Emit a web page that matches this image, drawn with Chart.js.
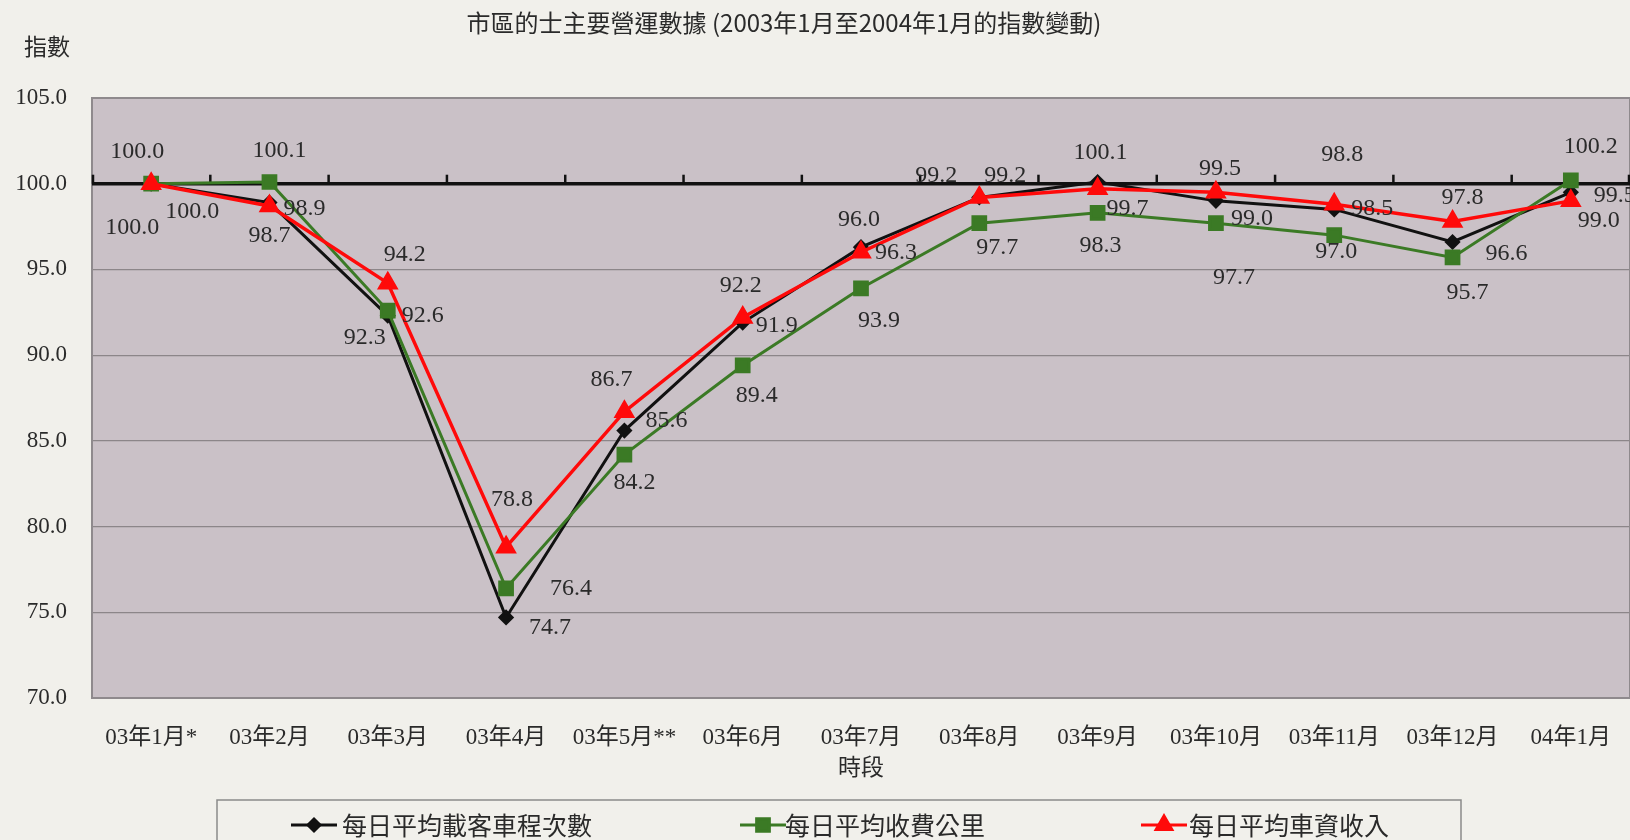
<!DOCTYPE html>
<html>
<head>
<meta charset="utf-8">
<script src="https://cdn.jsdelivr.net/npm/chart.js@4.4.1/dist/chart.umd.min.js"></script>
<style>
  html, body { margin: 0; padding: 0; background: #f1f0eb; overflow: hidden; }
  #wrap { width: 1630px; height: 840px; position: relative; }
</style>
</head>
<body>
<div id="wrap"><canvas id="taxiChart"></canvas></div>
<script>
// 市區的士主要營運數據 - 指數 (2003年1月 = 100)
const months = ["03年1月*", "03年2月", "03年3月", "03年4月", "03年5月**", "03年6月", "03年7月",
  "03年8月", "03年9月", "03年10月", "03年11月", "03年12月", "04年1月"];
const trips = [100.0, 98.9, 92.3, 74.7, 85.6, 91.9, 96.3, 99.2, 100.1, 99.0, 98.5, 96.6, 99.5];
const paidKm = [100.0, 100.1, 92.6, 76.4, 84.2, 89.4, 93.9, 97.7, 98.3, 97.7, 97.0, 95.7, 100.2];
const fareIncome = [100.0, 98.7, 94.2, 78.8, 86.7, 92.2, 96.0, 99.2, 99.7, 99.5, 98.8, 97.8, 99.0];
const seriesNames = ["每日平均載客車程次數", "每日平均收費公里", "每日平均車資收入"];
const yMin = 70, yMax = 105, yStep = 5, baseLine = 100;

// where each value label sits relative to its point (px)
const labelOffsets = [
  [[41, 28], [35, 6], [-23, 22], [44, 10], [42, -10], [34, 3], [35, 6], [-43, -22], [3, -29], [36, 18], [38, -1], [54, 12], [44, 3]],
  [[-14, -32], [10, -31], [35, 5], [65, 0], [10, 28], [14, 30], [18, 32], [18, 25], [3, 33], [18, 55], [2, 17], [15, 35], [20, -34]],
  [[-19, 44], [0, 30], [17, -28], [6, -47], [-13, -32], [-2, -32], [-2, -33], [26, -22], [30, 20], [4, -24], [8, -50], [10, -24], [28, 20]]
];

const serif = '"Liberation Serif", "Noto Sans CJK TC", serif';
const cjk = '"Noto Sans CJK TC", "Liberation Serif", sans-serif';
const textColor = "#2a2a2a";

const decorations = {
  id: "decorations",
  beforeDraw(chart) {
    const { ctx, chartArea: a } = chart;
    ctx.save();
    ctx.fillStyle = "#cac1c7";
    ctx.fillRect(a.left, a.top, a.right - a.left, a.bottom - a.top);
    ctx.restore();
  },
  beforeDatasetsDraw(chart) {
    const { ctx, chartArea: a, scales } = chart;
    const y = scales.y.getPixelForValue(baseLine);
    ctx.save();
    ctx.strokeStyle = "#8f8a8d";
    ctx.lineWidth = 2;
    ctx.strokeRect(a.left, a.top, a.right - a.left, a.bottom - a.top);
    // thick base line at 100 with small tick marks between months
    ctx.strokeStyle = "#111";
    ctx.lineWidth = 3.5;
    ctx.beginPath();
    ctx.moveTo(a.left, y);
    ctx.lineTo(a.right, y);
    ctx.stroke();
    ctx.lineWidth = 2.5;
    const n = months.length;
    for (let i = 0; i <= n; i++) {
      let x;
      if (i === 0) x = a.left + 1;
      else if (i === n) x = a.right - 1;
      else x = (scales.x.getPixelForValue(i - 1) + scales.x.getPixelForValue(i)) / 2;
      ctx.beginPath();
      ctx.moveTo(x, y);
      ctx.lineTo(x, y - 9);
      ctx.stroke();
    }
    ctx.restore();
  },
  afterDraw(chart) {
    const { ctx, chartArea: a } = chart;
    ctx.save();
    // value labels
    ctx.font = "24px " + serif;
    ctx.fillStyle = textColor;
    ctx.textAlign = "center";
    ctx.textBaseline = "middle";
    chart.data.datasets.forEach((ds, i) => {
      const meta = chart.getDatasetMeta(i);
      meta.data.forEach((pt, j) => {
        const off = labelOffsets[i][j];
        ctx.fillText(ds.data[j].toFixed(1), pt.x + off[0], pt.y + off[1]);
      });
    });
    // titles
    ctx.font = "24px " + cjk;
    ctx.fillText("市區的士主要營運數據 (2003年1月至2004年1月的指數變動)", 784, 23);
    ctx.font = "23px " + cjk;
    ctx.fillText("指數", 47, 46);
    ctx.fillText("時段", (a.left + a.right) / 2, 766);
    // legend box
    ctx.strokeStyle = "#8a8a8a";
    ctx.lineWidth = 1.5;
    ctx.strokeRect(217, 800, 1461 - 217, 60);
    const items = [[291, 342], [740, 785], [1141, 1189]];
    chart.data.datasets.forEach((ds, i) => {
      const [lx, tx] = items[i];
      const ly = 825;
      ctx.strokeStyle = ds.borderColor;
      ctx.lineWidth = 3;
      ctx.beginPath();
      ctx.moveTo(lx, ly);
      ctx.lineTo(lx + 46, ly);
      ctx.stroke();
      ctx.fillStyle = ds.pointBackgroundColor;
      ctx.strokeStyle = ds.borderColor;
      Chart.helpers.drawPoint(ctx, { pointStyle: ds.pointStyle, radius: ds.pointRadius, borderWidth: 1, rotation: 0 }, lx + 23, ly);
      ctx.fillStyle = textColor;
      ctx.textAlign = "left";
      ctx.font = "25px " + cjk;
      ctx.fillText(ds.label, tx, ly);
    });
    ctx.restore();
  }
};

const yTickValues = [];
for (let v = yMin; v <= yMax; v += yStep) yTickValues.push(v);

new Chart(document.getElementById("taxiChart"), {
  type: "line",
  data: {
    labels: months,
    datasets: [
      {
        label: seriesNames[0], data: trips, order: 2,
        borderColor: "#111111", pointBackgroundColor: "#111111", pointBorderColor: "#111111",
        borderWidth: 3, pointStyle: "rectRot", pointRadius: 6, pointHoverRadius: 6
      },
      {
        label: seriesNames[1], data: paidKm, order: 1,
        borderColor: "#3b7a25", pointBackgroundColor: "#3b7a25", pointBorderColor: "#3b7a25",
        borderWidth: 3, pointStyle: "rect", pointRadius: 9, pointHoverRadius: 9
      },
      {
        label: seriesNames[2], data: fareIncome, order: 0,
        borderColor: "#ff0a0a", pointBackgroundColor: "#ff0a0a", pointBorderColor: "#ff0a0a",
        borderWidth: 3.5, pointStyle: "triangle", pointRadius: 9, pointHoverRadius: 9
      }
    ]
  },
  options: {
    responsive: true,
    maintainAspectRatio: false,
    animation: false,
    layout: { autoPadding: false, padding: { top: 98, right: 0, bottom: 0, left: 0 } },
    elements: { line: { tension: 0 } },
    plugins: { legend: { display: false }, tooltip: { enabled: false }, title: { display: false } },
    scales: {
      x: {
        offset: true,
        grid: { display: false, drawTicks: false },
        border: { display: false },
        ticks: { color: textColor, font: { family: serif, size: 23 }, padding: 26, maxRotation: 0, autoSkip: false },
        afterFit(scale) {
          scale.height = 142;
          scale.paddingLeft = 0;
          scale.paddingRight = 0;
        }
      },
      y: {
        min: yMin, max: yMax,
        afterBuildTicks(scale) { scale.ticks = yTickValues.map(v => ({ value: v })); },
        grid: {
          drawTicks: false,
          color: ctx => (ctx.tick.value === yMin || ctx.tick.value === yMax || ctx.tick.value === baseLine) ? "rgba(0,0,0,0)" : "#8c8689",
          lineWidth: 1.2
        },
        border: { display: false },
        ticks: { color: textColor, font: { family: serif, size: 23 }, padding: 25, callback: v => v.toFixed(1) },
        afterFit(scale) { scale.width = 92; }
      }
    }
  },
  plugins: [decorations]
});
</script>
</body>
</html>
